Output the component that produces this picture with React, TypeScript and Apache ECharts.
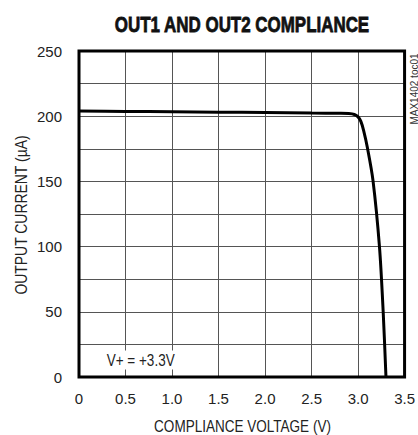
import React, { useEffect, useRef } from "react";
import * as echarts from "echarts";

const voltage = [0, 0.5, 1.0, 1.5, 2.0, 2.5, 2.8, 2.9, 2.96, 3.0, 3.03, 3.06, 3.1, 3.16, 3.23, 3.27, 3.3];
const current = [204, 203.7, 203.4, 203.1, 202.8, 202.4, 202.2, 202, 201.3, 199.5, 196, 189, 176, 151, 100, 50, 0];
const xTicks = ["0", "0.5", "1.0", "1.5", "2.0", "2.5", "3.0", "3.5"];
const yTicks = [0, 50, 100, 150, 200, 250];

const FONT = "'Liberation Sans', Arial, sans-serif";
const NARROW = 0.82;

export default function App() {
  const ref = useRef<HTMLDivElement>(null);
  useEffect(() => {
    if (!ref.current) return;
    const chart = echarts.init(ref.current, undefined, { renderer: "svg" });
    const data = voltage.map((v, i) => [v, current[i]]);
    chart.setOption({
      animation: false,
      backgroundColor: "#fff",
      grid: {
        left: 79,
        right: 13,
        top: 51,
        bottom: 58,
        show: true,
        borderColor: "#000",
        borderWidth: 3,
        z: 10,
      },
      xAxis: {
        type: "value",
        min: 0,
        max: 3.5,
        interval: 0.5,
        axisLine: { show: false },
        axisTick: { show: false },
        splitLine: { show: true, lineStyle: { color: "#555", width: 1 } },
        axisLabel: {
          fontFamily: FONT,
          fontSize: 15,
          color: "#222",
          margin: 14,
          formatter: (v: number) => xTicks[Math.round(v / 0.5)] ?? "",
        },
      },
      yAxis: {
        type: "value",
        min: 0,
        max: 250,
        interval: 25,
        axisLine: { show: false },
        axisTick: { show: false },
        splitLine: { show: true, lineStyle: { color: "#555", width: 1 } },
        axisLabel: {
          fontFamily: FONT,
          fontSize: 15,
          color: "#222",
          margin: 17,
          formatter: (v: number) => (yTicks.includes(v) ? String(v) : ""),
        },
      },
      series: [
        {
          type: "line",
          data,
          smooth: 0.3,
          showSymbol: false,
          lineStyle: { color: "#000", width: 3 },
          z: 5,
        },
      ],
      graphic: [
        {
          type: "text",
          x: 242,
          y: 24,
          scaleX: 0.77,
          style: {
            text: "OUT1 AND OUT2 COMPLIANCE",
            fontFamily: FONT,
            fontWeight: "bold",
            fontSize: 22,
            fill: "#111",
            stroke: "#111",
            lineWidth: 0.8,
            align: "center",
            verticalAlign: "middle",
          },
        },
        {
          type: "text",
          x: 242.5,
          y: 426,
          scaleX: NARROW,
          style: {
            text: "COMPLIANCE VOLTAGE (V)",
            fontFamily: FONT,
            fontSize: 16.5,
            fill: "#222",
            align: "center",
            verticalAlign: "middle",
          },
        },
        {
          type: "text",
          x: 21,
          y: 215,
          rotation: Math.PI / 2,
          scaleX: NARROW,
          style: {
            text: "OUTPUT CURRENT (µA)",
            fontFamily: FONT,
            fontSize: 17,
            fill: "#222",
            align: "center",
            verticalAlign: "middle",
          },
        },
        {
          type: "text",
          x: 105,
          y: 360,
          scaleX: NARROW,
          z: 20,
          style: {
            text: "V+ = +3.3V",
            fontFamily: FONT,
            fontSize: 16.5,
            fill: "#222",
            align: "left",
            verticalAlign: "middle",
            backgroundColor: "#fff",
            padding: [1, 2, 1, 2],
          },
        },
        {
          type: "text",
          x: 414,
          y: 89,
          rotation: Math.PI / 2,
          style: {
            text: "MAX1402 toc01",
            fontFamily: FONT,
            fontSize: 10,
            fill: "#333",
            align: "center",
            verticalAlign: "middle",
          },
        },
      ],
    });
    return () => chart.dispose();
  }, []);
  return <div ref={ref} style={{ width: 418, height: 435, position: "absolute", left: 0, top: 0 }} />;
}
